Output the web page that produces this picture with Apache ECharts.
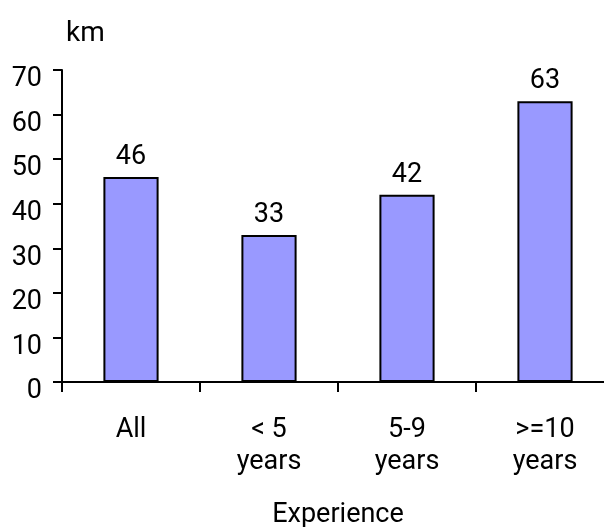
<!DOCTYPE html>
<html>
<head>
<meta charset="utf-8">
<script src="https://cdn.jsdelivr.net/npm/echarts@6/dist/echarts.min.js"></script>
<style>
  html, body { margin: 0; padding: 0; background: #fff; }
  #chart { width: 604px; height: 527px; }
</style>
</head>
<body>
<div id="chart"></div>
<script>
// Average distance by driver experience
const categories = ['All', '< 5\nyears', '5-9\nyears', '>=10\nyears'];
const distanceKm = [46, 33, 42, 63];
const yTicks = [0, 10, 20, 30, 40, 50, 60, 70];

const FONT = 'Roboto';
const FONT_SIZE = 27;
const chart = echarts.init(document.getElementById('chart'), null, { renderer: 'canvas' });

chart.setOption({
  animation: false,
  backgroundColor: '#ffffff',
  textStyle: { fontFamily: FONT, color: '#000' },
  title: {
    text: 'km',
    left: 61,
    top: 15,
    textStyle: { fontFamily: FONT, fontSize: 28, fontWeight: 'normal', color: '#000' }
  },
  // the plot runs past the right edge of the canvas, so give it a fixed width
  // and keep ECharts from squeezing it back inside
  grid: {
    left: 62, width: 552, top: 70, bottom: 145,
    containLabel: false, outerBoundsMode: 'none'
  },
  xAxis: {
    type: 'category',
    data: categories,
    boundaryGap: true,
    name: 'Experience',
    nameLocation: 'middle',
    nameGap: 120,
    nameTextStyle: { fontFamily: FONT, fontSize: FONT_SIZE, color: '#000' },
    axisLine: { show: true, lineStyle: { color: '#000', width: 2 } },
    axisTick: { show: true, length: 10, lineStyle: { color: '#000', width: 2 } },
    axisLabel: {
      fontFamily: FONT, fontSize: FONT_SIZE, color: '#000',
      margin: 32, lineHeight: 32, interval: 0
    },
    splitLine: { show: false }
  },
  yAxis: {
    type: 'value',
    min: yTicks[0],
    max: yTicks[yTicks.length - 1],
    interval: yTicks[1] - yTicks[0],
    axisLine: { show: true, lineStyle: { color: '#000', width: 2 } },
    axisTick: { show: true, length: 9, lineStyle: { color: '#000', width: 2 } },
    // labels sit a little below their ticks
    axisLabel: {
      fontFamily: FONT, fontSize: FONT_SIZE, color: '#000',
      margin: 20, verticalAlign: 'top', lineHeight: 19
    },
    splitLine: { show: false }
  },
  series: [{
    type: 'bar',
    data: distanceKm,
    barWidth: '40%',
    itemStyle: { color: '#9999FF', borderColor: '#000', borderWidth: 2 },
    label: {
      show: true,
      position: 'top',
      distance: 6,
      fontFamily: FONT,
      fontSize: FONT_SIZE,
      color: '#000'
    }
  }]
});
</script>
</body>
</html>
